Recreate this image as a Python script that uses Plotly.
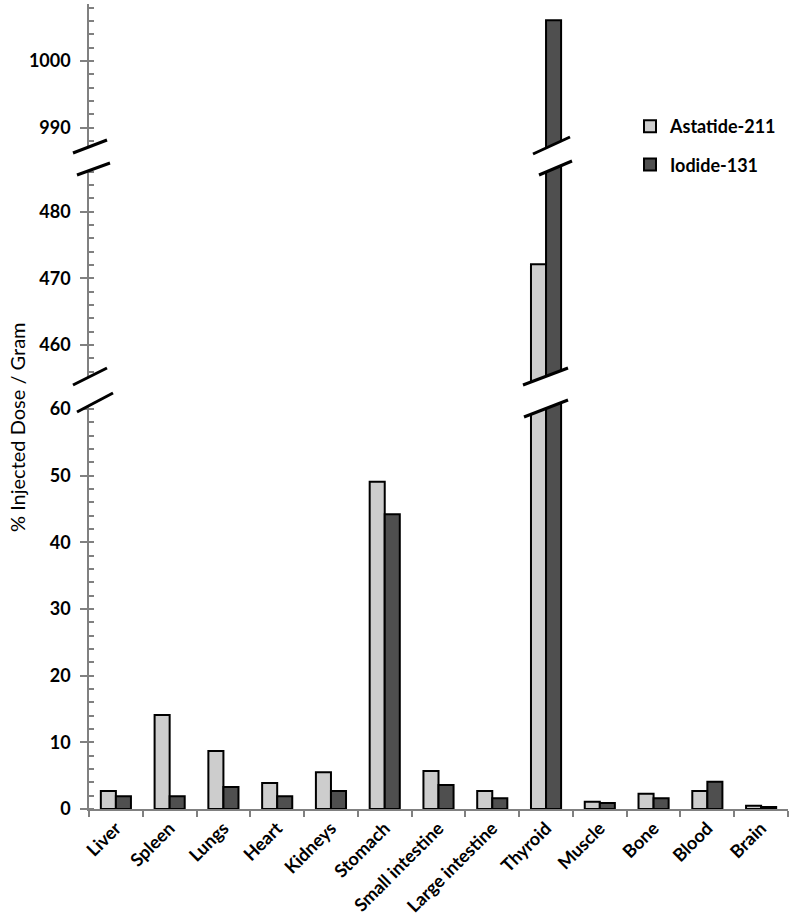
import plotly.graph_objects as go

# ---------------- data ----------------
categories = ["Liver", "Spleen", "Lungs", "Heart", "Kidneys", "Stomach",
              "Small intestine", "Large intestine", "Thyroid", "Muscle",
              "Bone", "Blood", "Brain"]
astatide_211 = [2.7, 14.1, 8.7, 3.9, 5.5, 49.1, 5.7, 2.7, 472.1, 1.1, 2.3, 2.7, 0.5]
iodide_131 = [1.9, 1.9, 3.3, 1.9, 2.7, 44.2, 3.6, 1.6, 1006.1, 0.9, 1.6, 4.1, 0.3]
series_names = ["Astatide-211", "Iodide-131"]

# broken y-axis segments (bottom, middle, top)
seg_ranges = [[0, 62.7], [453.1, 487.9], [985.3, 1008.55]]

# ---------------- layout geometry ----------------
W, H = 792, 924
ML, MR, MT, MB = 89, 4, 4, 115
PW, PH = W - ML - MR, H - MT - MB

def fx(px):
    return (px - ML) / PW

def fy(py):
    return (H - MB - py) / PH

spans = [r[1] - r[0] for r in seg_ranges]
total = sum(spans)
domains = []
acc = 0.0
for s in spans:
    domains.append([acc / total, (acc + s) / total])
    acc += s

FILL = ["#cdcdcd", "#4f4f4f"]
FONT = "Lato"

fig = go.Figure()
yaxes = ["y", "y2", "y3"]
for i, ya in enumerate(yaxes):
    for j, vals in enumerate([astatide_211, iodide_131]):
        fig.add_trace(go.Bar(
            x=categories, y=vals, name=series_names[j],
            xaxis="x", yaxis=ya,
            marker=dict(color=FILL[j], line=dict(color="black", width=2)),
            showlegend=(i == 0), legendgroup=series_names[j],
            hoverinfo="x+y+name",
        ))

yax_common = dict(
    showline=True, linecolor="#808080", linewidth=1.5,
    ticks="outside", ticklen=7, tickcolor="#808080", tickwidth=1.5,
    dtick=10, showgrid=False, zeroline=False,
    tickfont=dict(family=FONT, size=18, color="black", weight="bold"),
    ticklabelstandoff=6,
    minor=dict(dtick=2, ticks="inside", ticklen=5, tickcolor="#808080", tickwidth=1.5, showgrid=False),
    anchor="x",
)

layout_axes = {}
for i, ya in enumerate(yaxes):
    key = "yaxis" if i == 0 else f"yaxis{i+1}"
    layout_axes[key] = dict(range=seg_ranges[i], domain=domains[i], **yax_common)

fig.update_layout(
    width=W, height=H,
    margin=dict(l=ML, r=MR, t=MT, b=MB, pad=0),
    paper_bgcolor="white", plot_bgcolor="white",
    barmode="group", bargap=0.44, bargroupgap=0,
    xaxis=dict(
        anchor="y", showline=True, linecolor="#808080", linewidth=1.5,
        ticks="outside", ticklen=6, tickcolor="#808080", tickwidth=1.5,
        tickson="boundaries", tickangle=-45, showgrid=False,
        tickfont=dict(family=FONT, size=18, color="black", weight="bold"),
    ),
    legend=dict(
        x=fx(630), y=fy(108), xanchor="left", yanchor="top",
        font=dict(family=FONT, size=18, color="black", weight="bold"),
        tracegroupgap=12, bgcolor="rgba(0,0,0,0)",
    ),
    showlegend=True,
    **layout_axes,
)

# y-axis title
fig.add_annotation(
    text="% Injected Dose / Gram", xref="paper", yref="paper",
    x=fx(17), y=fy(427), textangle=-90, showarrow=False,
    font=dict(family=FONT, size=20, color="black"),
    xanchor="center", yanchor="middle",
)

# break marks: (upper line), (lower line) in pixel coordinates
breaks = [
    [((73, 153), (107, 140)), ((77, 175), (110, 163))],   # axis, upper gap
    [((73, 385), (107, 368)), ((77, 412), (113, 393))],   # axis, lower gap
    [((533, 154), (570, 137)), ((539, 175), (572, 161))], # thyroid, upper gap
    [((523, 385), (568, 368)), ((524, 417), (568, 400))], # thyroid, lower gap
]
for up, lo in breaks:
    pts = [up[0], up[1], lo[1], lo[0]]
    path = "M " + " L ".join(f"{fx(x):.5f},{fy(y):.5f}" for x, y in pts) + " Z"
    fig.add_shape(type="path", path=path, xref="paper", yref="paper",
                  fillcolor="white", line=dict(width=0), layer="above")
    for (p0, p1) in (up, lo):
        fig.add_shape(type="line", xref="paper", yref="paper",
                      x0=fx(p0[0]), y0=fy(p0[1]), x1=fx(p1[0]), y1=fy(p1[1]),
                      line=dict(color="black", width=3), layer="above")

fig.write_html("out.html", config={"displayModeBar": False},
               post_script="document.body.style.margin='0px';")
